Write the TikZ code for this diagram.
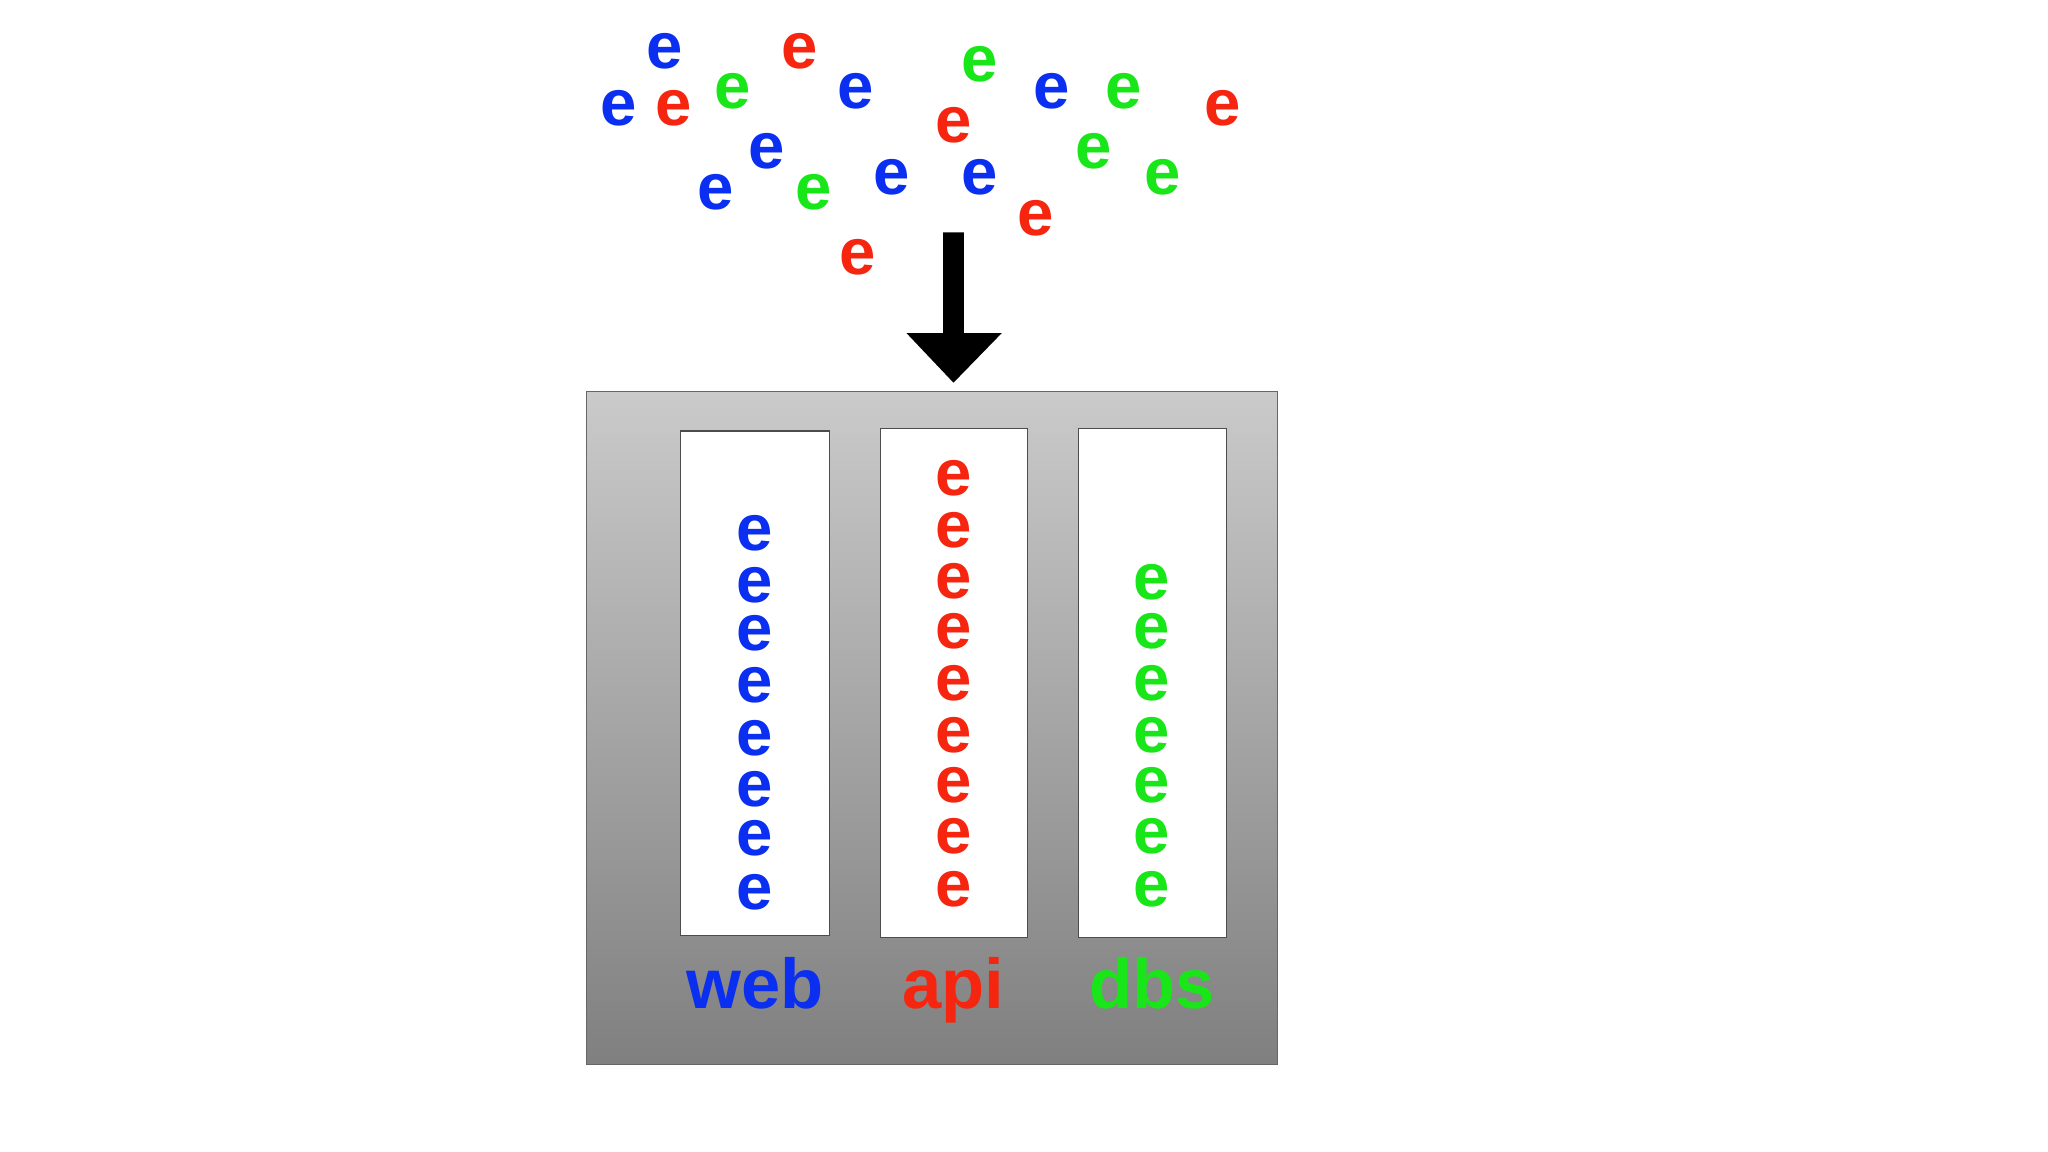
\documentclass[tikz,border=0pt]{standalone}
\usepackage{fontspec}
\setmainfont{Liberation Sans}
\begin{document}
\definecolor{eb}{HTML}{0A2FF0}
\definecolor{er}{HTML}{F5250F}
\definecolor{eg}{HTML}{19E619}
\begin{tikzpicture}[x=0.5pt,y=-0.5pt,
  e/.style={font=\fontsize{25}{25}\selectfont\bfseries,inner sep=0pt,yshift=-1.5pt},
  lbl/.style={font=\fontsize{27}{27}\selectfont\bfseries,inner sep=0pt,anchor=base},
  col/.style={draw=black!70,fill=white,line width=0.4pt}]
\useasboundingbox (0,0) rectangle (1568,882);
% scattered
\foreach \x/\y in {509/36,474/80,655/67,587/113,548/144,683/133,750/133,805/67}
  \node[e,text=eb] at (\x,\y) {e};
\foreach \x/\y in {612/36,516/80,730/93,936/80,793/164,657/194}
  \node[e,text=er] at (\x,\y) {e};
\foreach \x/\y in {561/67,750/46,860/67,837/113,623/144,890/133}
  \node[e,text=eg] at (\x,\y) {e};
% arrow
\fill[black] (722,178) -- (738,178) -- (738,255) -- (767,255) -- (730,293) -- (694,255) -- (722,255) -- cycle;
% box
\shade[top color=gray!35!white!90!gray,bottom color=black!50] (449,300) rectangle (978,815);
\draw[black!60,line width=0.4pt] (449,300) rectangle (978,815);
\node[col,minimum width=57pt,minimum height=193pt] (web) at (578,523) {};
\node[col,minimum width=56.5pt,minimum height=195pt] (api) at (730.5,523) {};
\node[col,minimum width=56.5pt,minimum height=195pt] (dbs) at (882.5,523) {};
\foreach \y in {405,445,482,522,562,601,639,680} \node[e,text=eb] at (578,\y) {e};
\foreach \y in {363,403,442,480,520,560,598,637,678} \node[e,text=er] at (730,\y) {e};
\foreach \y in {443,480,520,560,598,637,678} \node[e,text=eg] at (882,\y) {e};
\node[lbl,text=eb] at (578,772) {web};
\node[lbl,text=er] at (730,772) {api};
\node[lbl,text=eg] at (882,772) {dbs};
\end{tikzpicture}
\end{document}
